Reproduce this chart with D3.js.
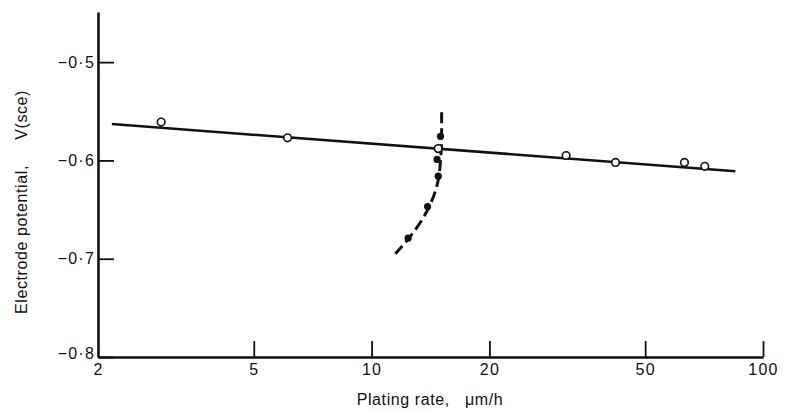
<!DOCTYPE html>
<html>
<head>
<meta charset="UTF-8" />
<title>Plating rate vs electrode potential</title>
<script src="https://cdn.jsdelivr.net/npm/d3@7"></script>
<style>
  body { margin: 0; background: #fff; }
  text { font-family: "Liberation Sans", Arial, sans-serif; fill: #111; white-space: pre; }
</style>
</head>
<body>
<script>
// open circles (plating rate um/h, potential V)
var openRate = [2.9, 6.1, 14.8, 31.4, 42, 63, 71];
var openPot = [-0.561, -0.577, -0.588, -0.595, -0.602, -0.602, -0.606];
// fitted straight line ends
var fitRate = [2.17, 85];
var fitPot = [-0.563, -0.611];
// filled circles
var fillRate = [15.0, 14.7, 14.8, 13.9, 12.4];
var fillPot = [-0.5755, -0.599, -0.616, -0.647, -0.679];
// dashed curve through filled points
var curveRate = [15.1, 15.1, 15.0, 14.8, 14.0, 12.4, 11.5];
var curvePot = [-0.551, -0.575, -0.600, -0.620, -0.648, -0.680, -0.695];

var xTicks = [2, 5, 10, 20, 50, 100];
var yTicks = [-0.8, -0.7, -0.6, -0.5];

var W = 786, H = 413;
var svg = d3.select("body").append("svg").attr("width", W).attr("height", H);

var x = d3.scaleLog().domain([2, 100]).range([98, 763]);
var y = d3.scaleLinear().domain([-0.8, -0.449]).range([357, 12]);

var fmtY = function(d) { return d.toFixed(1).replace("-", "\u2212").replace(".", "\u00b7"); };

var gx = svg.append("g").attr("transform", "translate(0," + y(-0.8) + ")")
  .call(d3.axisBottom(x).tickValues(xTicks).tickFormat(d3.format("d"))
    .tickSizeInner(-16).tickSizeOuter(0).tickPadding(5));
var gy = svg.append("g").attr("transform", "translate(" + x(2) + ",0)")
  .call(d3.axisLeft(y).tickValues(yTicks).tickFormat(fmtY)
    .tickSizeInner(-16).tickSizeOuter(0).tickPadding(3));

[gx, gy].forEach(function(g) {
  g.select(".domain").attr("stroke", "#111").attr("stroke-width", 2.6);
  g.selectAll(".tick line").attr("stroke", "#111").attr("stroke-width", 1.8);
  g.selectAll(".tick text").attr("font-size", 16).attr("letter-spacing", 1.2).attr("fill", "#111");
});
gx.selectAll(".tick text").attr("dy", "0.8em");
gx.selectAll(".tick").filter(function(d) { return d === 2; }).select("line").remove();
gy.selectAll(".tick").filter(function(d) { return d === -0.8; }).select("text").attr("dy", "0.1em");

// straight fit line
var line = d3.line().x(function(d) { return x(d[0]); }).y(function(d) { return y(d[1]); });
svg.append("path").datum(d3.zip(fitRate, fitPot)).attr("d", line)
  .attr("fill", "none").attr("stroke", "#111").attr("stroke-width", 2.6);

// dashed curve
svg.append("path").datum(d3.zip(curveRate, curvePot))
  .attr("d", line.curve(d3.curveMonotoneY))
  .attr("fill", "none").attr("stroke", "#111").attr("stroke-width", 3)
  .attr("stroke-dasharray", "11,5");

svg.selectAll("circle.open").data(d3.zip(openRate, openPot)).enter().append("circle")
  .attr("class", "open").attr("cx", function(d) { return x(d[0]); }).attr("cy", function(d) { return y(d[1]); })
  .attr("r", 3.8).attr("fill", "#fff").attr("stroke", "#111").attr("stroke-width", 1.6);

svg.selectAll("circle.fill").data(d3.zip(fillRate, fillPot)).enter().append("circle")
  .attr("class", "fill").attr("cx", function(d) { return x(d[0]); }).attr("cy", function(d) { return y(d[1]); })
  .attr("r", 3.6).attr("fill", "#111");

// axis titles
svg.append("text").attr("x", 430).attr("y", 405).attr("text-anchor", "middle")
  .attr("font-size", 16).attr("letter-spacing", 0.6).text("Plating rate,   \u03bcm/h");
svg.append("text").attr("transform", "translate(27,202) rotate(-90)").attr("text-anchor", "middle")
  .attr("font-size", 16).attr("letter-spacing", 0.6).text("Electrode potential,     V(sce)");
</script>
</body>
</html>
